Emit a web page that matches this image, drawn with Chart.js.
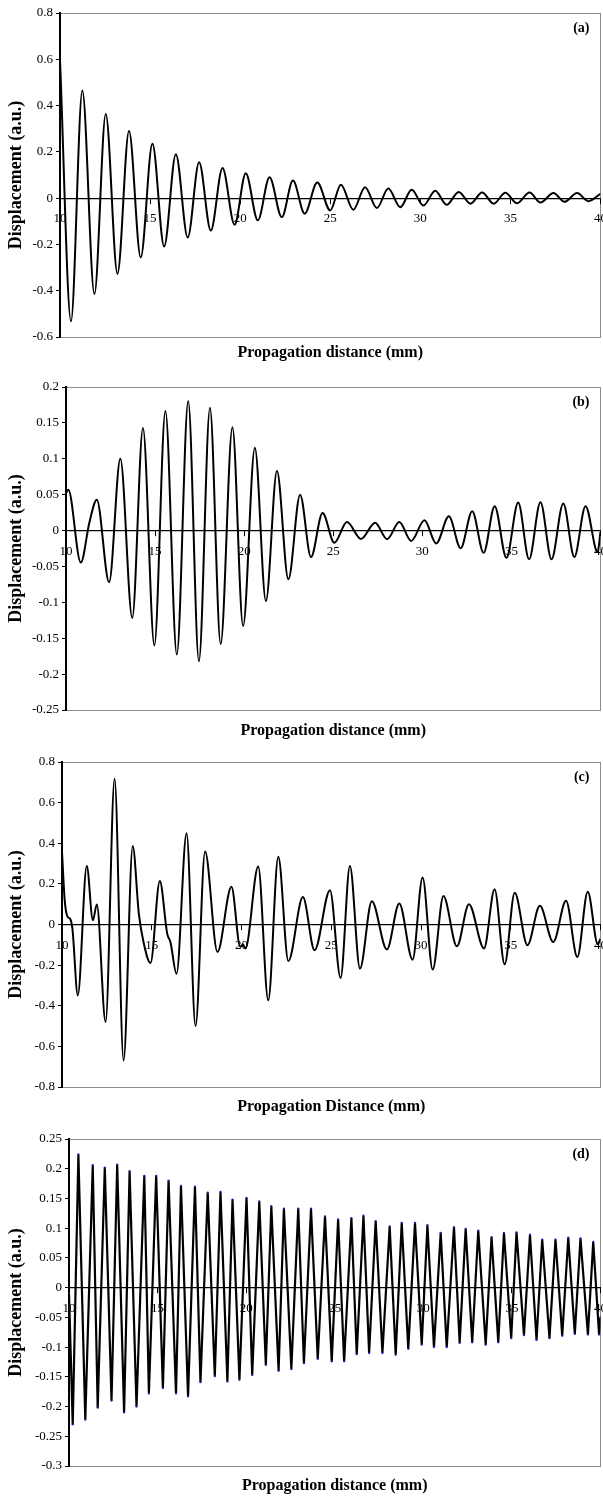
<!DOCTYPE html>
<html>
<head>
<meta charset="utf-8">
<script src="https://cdn.jsdelivr.net/npm/chart.js@4.4.0/dist/chart.umd.min.js"></script>
<style>
  html, body { margin: 0; padding: 0; background: #fff; overflow: hidden; }
  body { width: 603px; height: 1497px; position: relative; }
  canvas { position: absolute; left: 0; }
</style>
</head>
<body>
<canvas id="chartA" width="615" height="372" style="top:0px"></canvas>
<canvas id="chartB" width="615" height="378" style="top:372px"></canvas>
<canvas id="chartC" width="615" height="375" style="top:750px"></canvas>
<canvas id="chartD" width="615" height="377" style="top:1120px"></canvas>
<script>
// x ticks shared by all panels (mm)
const xTicks = [10, 15, 20, 25, 30, 35, 40];

// (a) peaks / troughs
const distA = [10.0, 10.61, 11.24, 11.91, 12.54, 13.19, 13.83, 14.48, 15.13, 15.78, 16.43, 17.09,
  17.72, 18.37, 19.02, 19.69, 20.31, 20.98, 21.63, 22.31, 22.93, 23.58, 24.28, 25.0, 25.59, 26.28,
  26.93, 27.59, 28.22, 28.89, 29.52, 30.17, 30.83, 31.46, 32.13, 32.78, 33.43, 34.07, 34.72, 35.37,
  36.06, 36.67, 37.39, 38.0, 38.7, 39.33, 40.0];
const dispA = [0.597, -0.532, 0.465, -0.414, 0.364, -0.327, 0.29, -0.256, 0.235, -0.209, 0.19, -0.17,
  0.155, -0.14, 0.13, -0.115, 0.108, -0.096, 0.09, -0.082, 0.076, -0.067, 0.068, -0.053, 0.058, -0.05,
  0.047, -0.043, 0.042, -0.039, 0.036, -0.032, 0.032, -0.029, 0.027, -0.024, 0.024, -0.024, 0.023, -0.022,
  0.024, -0.019, 0.022, -0.016, 0.022, -0.013, 0.019];
const yTicksA = [-0.6, -0.4, -0.2, 0, 0.2, 0.4, 0.6, 0.8];

// (b)
const distB = [10.0, 10.13, 10.83, 11.32, 11.73, 12.42, 13.05, 13.72, 14.32, 14.96, 15.58, 16.22,
  16.86, 17.46, 18.08, 18.68, 19.34, 19.94, 20.6, 21.22, 21.84, 22.48, 23.14, 23.75, 24.4, 25.06,
  25.77, 26.56, 27.35, 28.02, 28.71, 29.37, 30.12, 30.78, 31.49, 32.15, 32.8, 33.44, 34.06, 34.72,
  35.38, 35.99, 36.63, 37.25, 37.91, 38.53, 39.16, 39.84, 40.0];
const dispB = [0.052, 0.057, -0.0445, 0.012, 0.043, -0.072, 0.100, -0.1216, 0.143, -0.16, 0.1666, -0.1726,
  0.1805, -0.182, 0.171, -0.158, 0.144, -0.133, 0.1155, -0.098, 0.083, -0.068, 0.050, -0.037, 0.0246, -0.017,
  0.012, -0.0116, 0.011, -0.012, 0.012, -0.0144, 0.0144, -0.018, 0.020, -0.0246, 0.027, -0.031, 0.034, -0.038,
  0.039, -0.040, 0.0394, -0.040, 0.0376, -0.0367, 0.034, -0.03, -0.002];
const yTicksB = [-0.25, -0.2, -0.15, -0.1, -0.05, 0, 0.05, 0.1, 0.15, 0.2];

// (c)
const distC = [10.0, 10.15, 10.3, 10.45, 10.58, 10.88, 11.38, 11.72, 11.94, 12.43, 12.93, 13.43,
  13.94, 14.28, 14.55, 14.93, 15.45, 15.86, 16.04, 16.38, 16.94, 17.44, 17.97, 18.66, 19.44, 19.93,
  20.08, 20.22, 20.93, 21.49, 22.05, 22.61, 23.42, 24.07, 24.93, 25.52, 26.04, 26.6, 27.26, 28.1,
  28.79, 29.53, 30.09, 30.65, 31.25, 32.0, 32.67, 33.51, 34.1, 34.66, 35.22, 35.93, 36.62, 37.37,
  38.08, 38.71, 39.29, 39.85, 40.0];
const dispC = [0.358, 0.12, 0.04, 0.028, -0.02, -0.349, 0.288, 0.021, 0.099, -0.48, 0.717, -0.67,
  0.387, 0.054, -0.09, -0.19, 0.214, -0.045, -0.086, -0.242, 0.449, -0.50, 0.359, -0.135, 0.186, -0.11,
  -0.098, -0.118, 0.285, -0.373, 0.334, -0.18, 0.135, -0.127, 0.169, -0.263, 0.288, -0.217, 0.115, -0.123,
  0.104, -0.173, 0.232, -0.222, 0.14, -0.107, 0.10, -0.118, 0.173, -0.196, 0.156, -0.102, 0.092, -0.086,
  0.117, -0.16, 0.161, -0.097, -0.07];
const yTicksC = [-0.8, -0.6, -0.4, -0.2, 0, 0.2, 0.4, 0.6, 0.8];

// (d) sampled signal, straight segments between samples
const distD = [10.0, 10.21, 10.53, 10.92, 11.34, 11.62, 12.02, 12.4, 12.72, 13.11, 13.42, 13.81,
  14.25, 14.51, 14.92, 15.3, 15.62, 16.04, 16.32, 16.72, 17.11, 17.42, 17.83, 18.23, 18.55, 18.94,
  19.23, 19.62, 20.02, 20.34, 20.74, 21.11, 21.42, 21.83, 22.13, 22.55, 22.94, 23.26, 23.66, 24.04,
  24.45, 24.83, 25.19, 25.53, 25.94, 26.24, 26.62, 26.94, 27.31, 27.69, 28.1, 28.44, 28.78, 29.15,
  29.53, 29.91, 30.23, 30.6, 30.98, 31.32, 31.73, 32.05, 32.39, 32.76, 33.1, 33.52, 33.85, 34.23,
  34.55, 34.96, 35.26, 35.68, 36.02, 36.39, 36.71, 37.12, 37.46, 37.84, 38.18, 38.55, 38.87, 39.29,
  39.59, 39.92, 40.0];
const dispD = [-0.01, -0.23, 0.224, -0.222, 0.206, -0.202, 0.202, -0.19, 0.207, -0.21, 0.196, -0.2,
  0.188, -0.178, 0.188, -0.169, 0.18, -0.178, 0.171, -0.183, 0.17, -0.159, 0.16, -0.149, 0.161, -0.158,
  0.148, -0.155, 0.151, -0.147, 0.145, -0.13, 0.137, -0.14, 0.133, -0.137, 0.133, -0.127, 0.133, -0.12,
  0.12, -0.124, 0.115, -0.124, 0.117, -0.112, 0.121, -0.11, 0.112, -0.11, 0.103, -0.113, 0.109, -0.103,
  0.109, -0.096, 0.105, -0.1, 0.092, -0.1, 0.102, -0.093, 0.099, -0.092, 0.096, -0.096, 0.085, -0.092,
  0.092, -0.085, 0.093, -0.08, 0.089, -0.088, 0.081, -0.085, 0.081, -0.081, 0.084, -0.078, 0.083, -0.079,
  0.077, -0.079, -0.05];
const yTicksD = [-0.3, -0.25, -0.2, -0.15, -0.1, -0.05, 0, 0.05, 0.1, 0.15, 0.2, 0.25];

const FONT = "'Liberation Serif', 'Times New Roman', serif";

// gray frame round the plot area, drawn before the axes
const framePlugin = {
    id: "frame",
    beforeDraw(chart) {
        const { ctx, chartArea: a } = chart;
        ctx.save();
        ctx.strokeStyle = "#8c8c8c";
        ctx.lineWidth = 1;
        ctx.strokeRect(Math.round(a.left) + 0.5, Math.round(a.top) + 0.5,
            Math.round(a.right - a.left) - 1, Math.round(a.bottom - a.top));
        ctx.restore();
    },
};

// "(a)", "(b)"... in the top right corner
const tagPlugin = {
    id: "panelTag",
    afterDraw(chart, args, opts) {
        const { ctx, chartArea: a } = chart;
        ctx.save();
        ctx.font = "bold 14px " + FONT;
        ctx.fillStyle = "#000";
        ctx.textAlign = "right";
        ctx.textBaseline = "middle";
        ctx.fillText(opts.text, a.right - 11, a.top + 15);
        ctx.restore();
    },
};

function fmt(v) {
    return String(Number(v.toFixed(3)));
}

function makePanel(id, p) {
    const titleLH = 16 * 1.2;
    const points = p.dist.map((d, i) => ({ x: d, y: p.disp[i] }));
    return new Chart(document.getElementById(id), {
        type: "line",
        data: {
            datasets: [{
                data: points,
                borderColor: "#000",
                borderWidth: p.sampled ? 2.2 : 2,
                tension: 0,
                cubicInterpolationMode: p.sampled ? "default" : "monotone",
                pointRadius: p.sampled ? 1.1 : 0,
                pointBackgroundColor: "#1c1ca8",
                pointBorderWidth: 0,
                fill: false,
            }],
        },
        options: {
            responsive: false,
            animation: false,
            events: [],
            layout: {
                padding: { top: p.areaTop - p.top, left: 0, right: 0, bottom: 0 },
            },
            plugins: {
                legend: { display: false },
                tooltip: { enabled: false },
                title: {
                    display: true,
                    position: "bottom",
                    fullSize: false,
                    text: p.xTitle,
                    color: "#000",
                    font: { family: FONT, size: 16, weight: "bold" },
                    padding: {
                        top: p.titleY - p.areaBottom - titleLH / 2,
                        bottom: p.top + p.height - p.titleY - titleLH / 2,
                    },
                },
                panelTag: { text: p.tag },
            },
            scales: {
                x: {
                    type: "linear",
                    position: { y: 0 },
                    min: 10,
                    max: 40,
                    afterBuildTicks: (s) => { s.ticks = xTicks.map((v) => ({ value: v })); },
                    ticks: {
                        color: "#000",
                        font: { family: FONT, size: 13 },
                        padding: 8,
                        maxRotation: 0,
                        callback: (v) => fmt(v),
                    },
                    grid: { drawOnChartArea: false, tickLength: 5, color: "#000" },
                    border: { color: "#000", width: 1.2 },
                },
                y: {
                    type: "linear",
                    position: "left",
                    min: p.yTicks[0],
                    max: p.yTicks[p.yTicks.length - 1],
                    afterBuildTicks: (s) => { s.ticks = p.yTicks.map((v) => ({ value: v })); },
                    afterFit: (s) => { s.width = p.areaLeft; },
                    ticks: {
                        color: "#000",
                        font: { family: FONT, size: 13 },
                        padding: 3,
                        callback: (v) => fmt(v),
                    },
                    grid: { drawOnChartArea: false, tickLength: 4, color: "#000" },
                    border: { color: "#000", width: 2 },
                    title: {
                        display: true,
                        text: "Displacement (a.u.)",
                        color: "#000",
                        font: { family: FONT, size: 18, weight: "bold" },
                        padding: { top: 6, bottom: 0 },
                    },
                },
            },
        },
        plugins: [framePlugin, tagPlugin],
    });
}

makePanel("chartA", {
    dist: distA, disp: dispA, yTicks: yTicksA, tag: "(a)",
    xTitle: "Propagation distance (mm)",
    top: 0, height: 372, areaTop: 13, areaBottom: 337, areaLeft: 60, titleY: 353,
});
makePanel("chartB", {
    dist: distB, disp: dispB, yTicks: yTicksB, tag: "(b)",
    xTitle: "Propagation distance (mm)",
    top: 372, height: 378, areaTop: 387, areaBottom: 710, areaLeft: 66, titleY: 731,
});
makePanel("chartC", {
    dist: distC, disp: dispC, yTicks: yTicksC, tag: "(c)",
    xTitle: "Propagation Distance (mm)",
    top: 750, height: 375, areaTop: 762, areaBottom: 1087, areaLeft: 62, titleY: 1107,
});
makePanel("chartD", {
    dist: distD, disp: dispD, yTicks: yTicksD, tag: "(d)", sampled: true,
    xTitle: "Propagation distance (mm)",
    top: 1120, height: 377, areaTop: 1139, areaBottom: 1466, areaLeft: 69, titleY: 1486,
});
</script>
</body>
</html>
